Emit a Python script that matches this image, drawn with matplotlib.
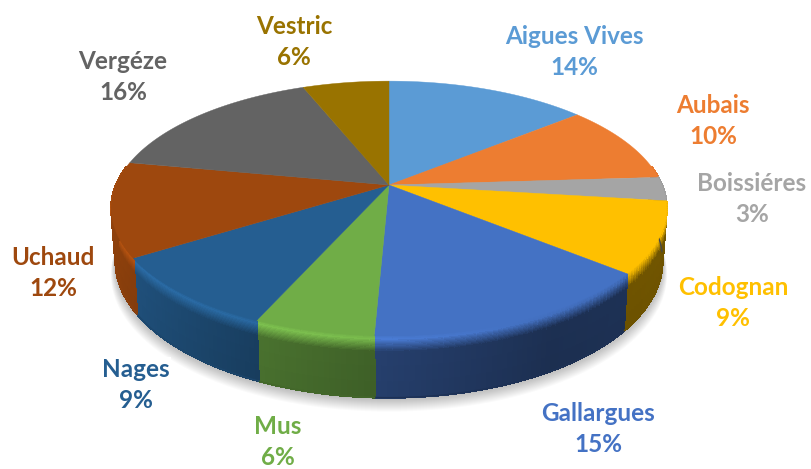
import numpy as np
import matplotlib
matplotlib.use("Agg")
import matplotlib.pyplot as plt
from matplotlib.collections import PolyCollection
from matplotlib.colors import to_rgb

names = ["Aigues Vives", "Aubais", "Boissiéres", "Codognan", "Gallargues",
         "Mus", "Nages", "Uchaud", "Vergéze", "Vestric"]
shares = [14.0, 10.0, 3.0, 9.0, 14.7, 5.9, 9.4, 12.0, 16.0, 6.0]
colors = ["#5B9BD5", "#ED7D31", "#A5A5A5", "#FFC000", "#4472C4",
          "#70AD47", "#255E91", "#9E480E", "#636363", "#997300"]
label_x = [574, 713, 752, 733, 598, 278, 136, 53, 123, 294]
label_y = [52, 121, 199, 303, 429, 442, 385, 273, 77, 42]

# perspective of the disc, in pixels of the picture
cx, cy = 389, 185
A, B, k = 273, 123, 0.184
wall = 50.5


def project(theta):
    u, v = np.sin(theta), np.cos(theta)
    d = 1 + k * v
    return cx + A * u / d, cy - B * v / d, d


def wall_point(theta, t):
    x, y, d = project(theta)
    return cx + (x - cx) * (1 - 0.015 * t), y + t * wall / d


def wall_shade(u):
    return np.interp(u, [-1, -0.4, 0, 0.5, 1], [0.92, 0.66, 0.55, 0.42, 0.45])


fig = plt.figure(figsize=(8.11, 4.69), dpi=100)
ax = fig.add_axes([0, 0, 1, 1])
ax.set_xlim(0, 811)
ax.set_ylim(469, 0)
ax.axis("off")

# soft shadow under the pie
th = np.radians(np.arange(0, 361, 2))
for off in np.arange(1, 15, 1.0):
    x, y = wall_point(th, 1)
    ax.fill(cx + (x - cx) * (1 + off * 0.0012), y + off, color="black",
            alpha=0.018, lw=0, zorder=1)

edges = np.cumsum([0] + shares) / sum(shares) * 2 * np.pi

# side wall, shaded by small pieces
rows = np.r_[np.linspace(0, 0.3, 16), 0.5, 0.75, 1.0]
polys, faces = [], []
for i in range(len(shares)):
    a = np.linspace(edges[i], edges[i + 1], max(2, int((edges[i + 1] - edges[i]) * 60)))
    base = np.array(to_rgb(colors[i]))
    for a0, a1 in zip(a[:-1], a[1:]):
        mid = (a0 + a1) / 2
        if np.cos(mid) > 0.15:
            continue
        u = np.sin(mid)
        f = wall_shade(u)
        light = np.interp(u, [-1, 0, 1], [1.15, 1.08, 0.85])
        for r in range(len(rows) - 1):
            t0, t1 = rows[r], rows[r + 1]
            tm = (t0 + t1) / 2
            shade = np.interp(tm, [0, 0.07, 0.27, 1], [1.0, light, f, f * 0.97])
            p0 = wall_point(a0, t0)
            p1 = wall_point(a1, t0)
            p2 = wall_point(a1, t1)
            p3 = wall_point(a0, t1)
            polys.append([p0, p1, p2, p3])
            faces.append(np.clip(base * shade, 0, 1))
ax.add_collection(PolyCollection(polys, facecolors=faces, edgecolors=faces,
                                 linewidths=0.9, antialiaseds=False, zorder=2))

# smooth lower edge of the wall
for i in range(len(shares)):
    a = np.linspace(edges[i], edges[i + 1], 80)
    a = a[np.cos(a) <= 0.15]
    if len(a) < 2:
        continue
    x, y = wall_point(a, 1)
    f = wall_shade(np.sin(a.mean()))
    ax.plot(x, y, color=np.array(to_rgb(colors[i])) * f * 0.97, lw=1.0, zorder=2.5)

# top face
for i in range(len(shares)):
    a = np.linspace(edges[i], edges[i + 1], 80)
    x, y, _ = project(a)
    ax.fill(np.r_[cx, x], np.r_[cy, y], color=colors[i], lw=0.3, zorder=3)

# labels
for i, name in enumerate(names):
    ax.text(label_x[i], label_y[i], f"{name}\n{round(shares[i])}%", color=colors[i],
            family="Lato", weight="bold", fontsize=17.5, ha="center", va="center",
            linespacing=1.47, zorder=4,
            bbox=dict(facecolor="white", edgecolor="none", pad=0.5))

fig.savefig("out.png", dpi=100)
